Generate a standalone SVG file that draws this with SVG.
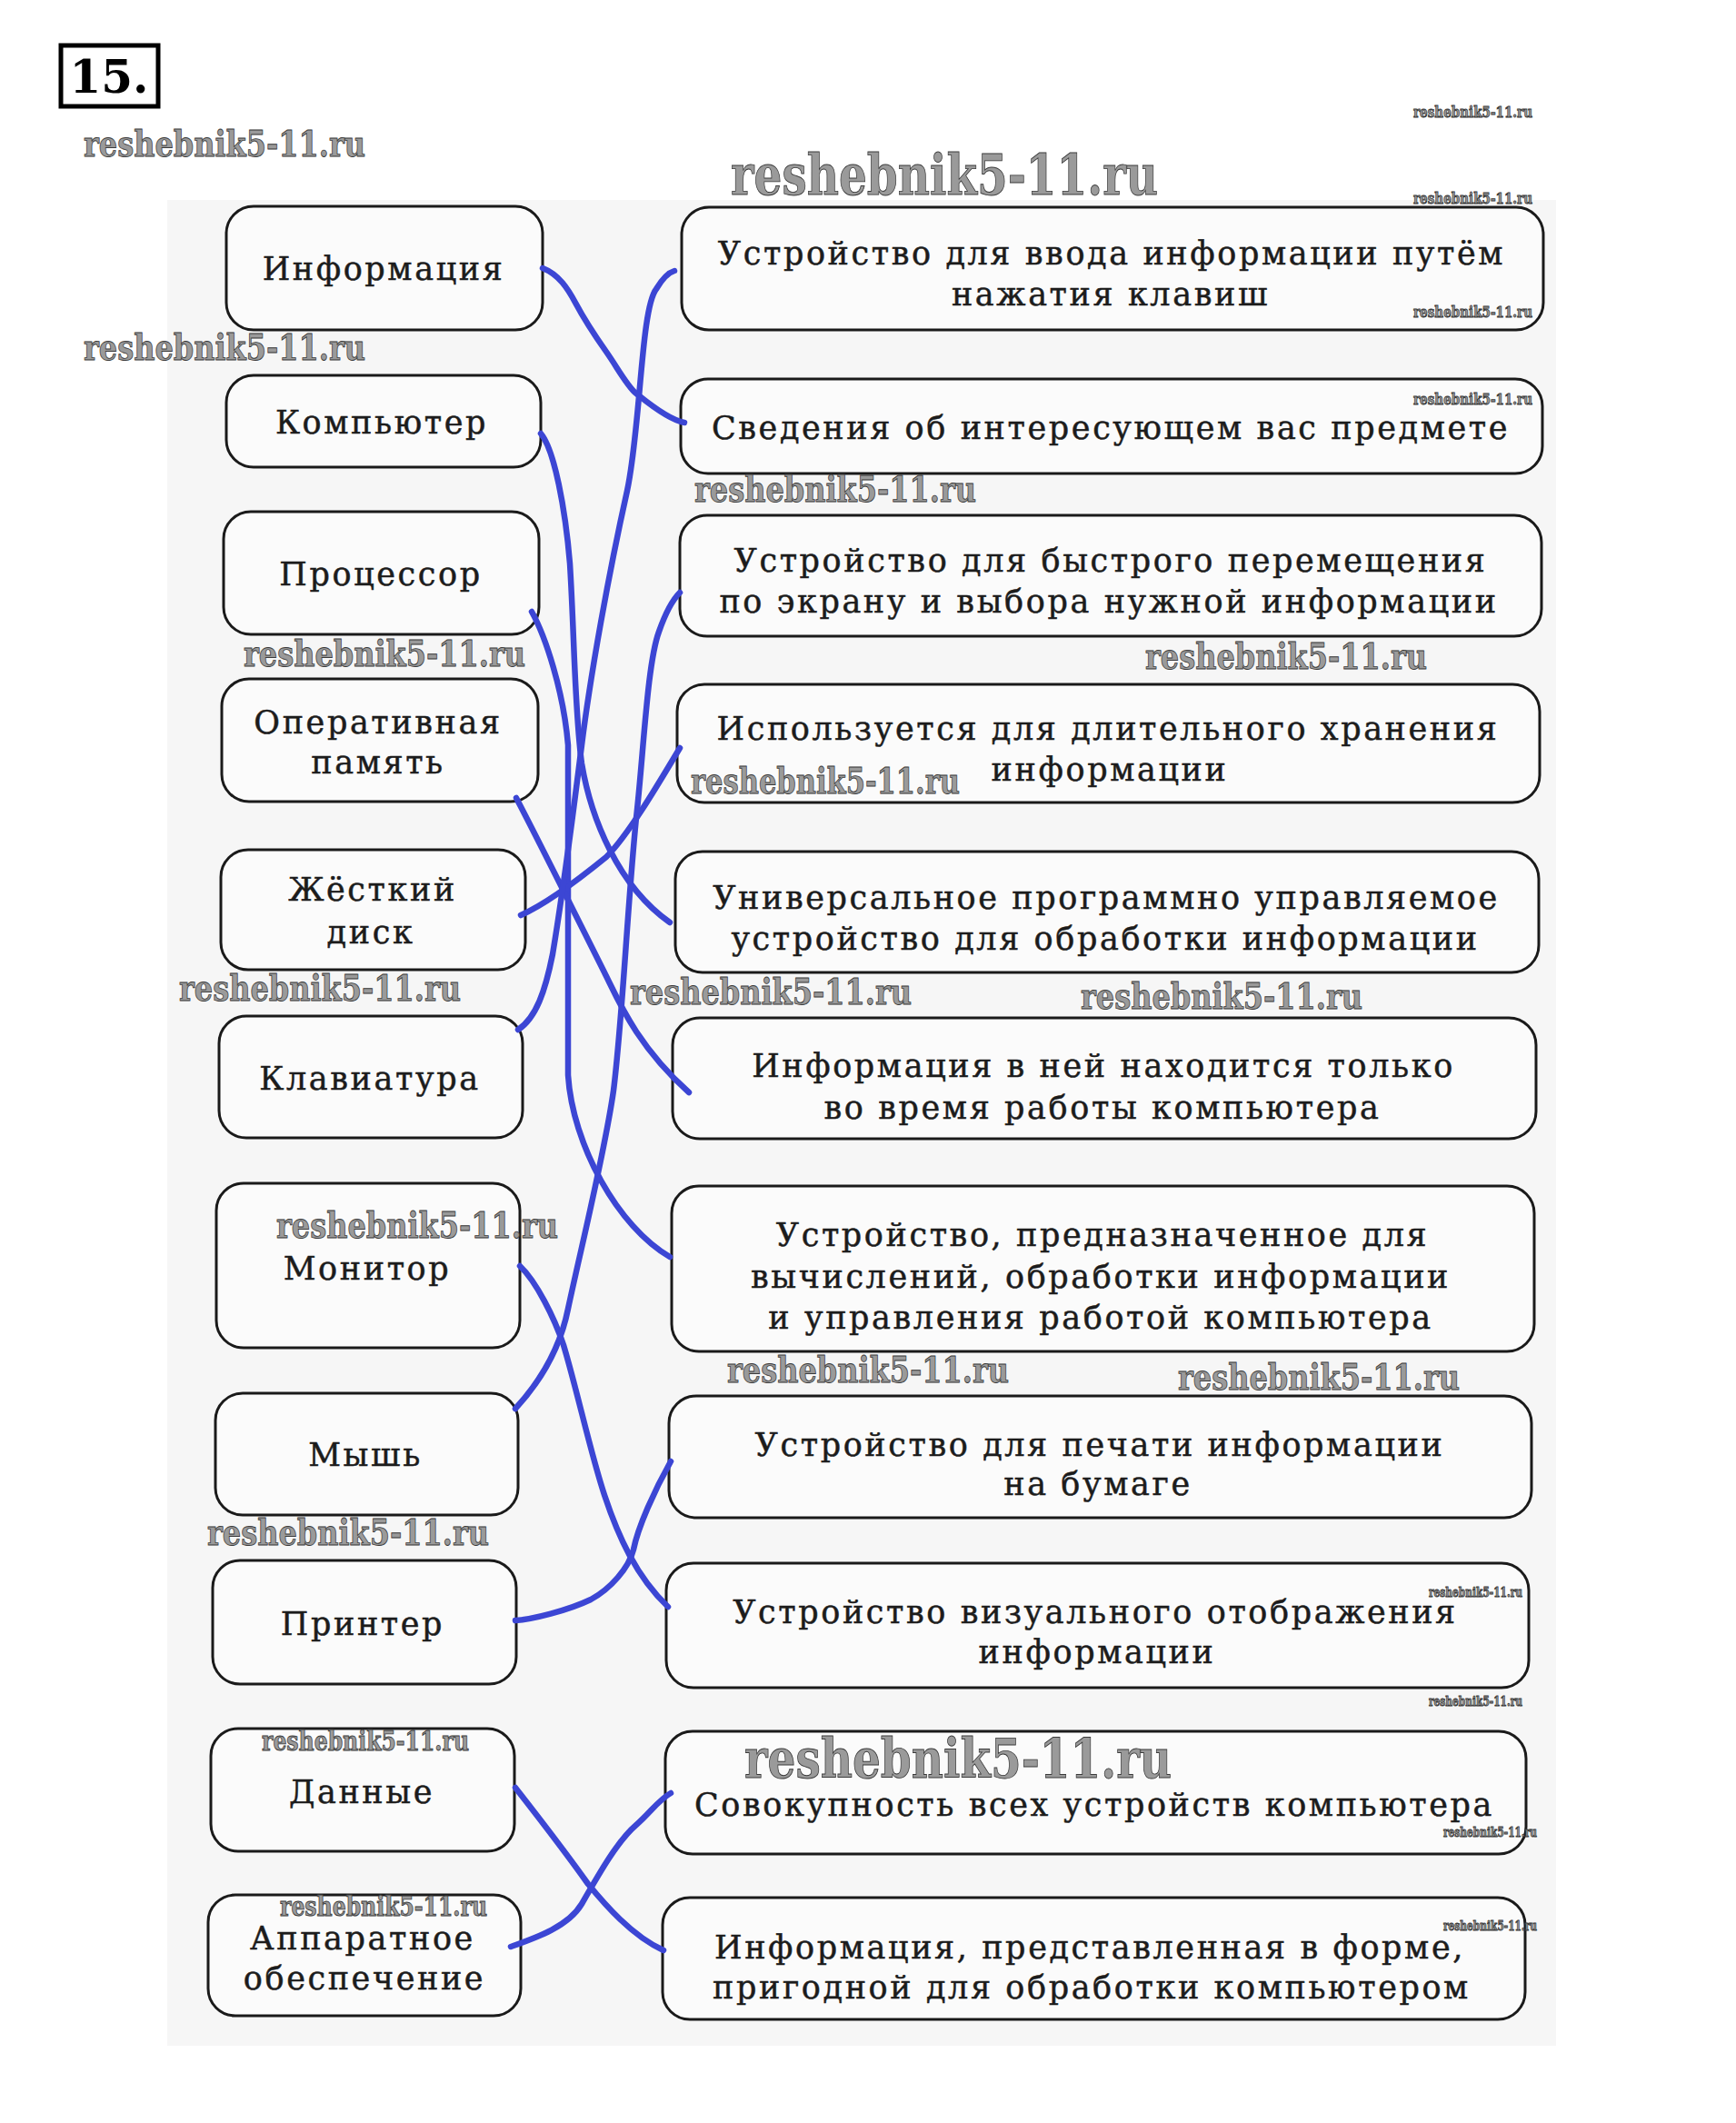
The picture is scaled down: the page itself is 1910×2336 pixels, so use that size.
<svg xmlns="http://www.w3.org/2000/svg" width="1910" height="2336" viewBox="0 0 1910 2336">
<style>
.box{fill:#fbfbfb;stroke:#1a1a1a;stroke-width:3}
.t{font-family:"DejaVu Serif","Liberation Serif",serif;font-size:35px;letter-spacing:2.6px;fill:#1c1c1c;stroke:#1c1c1c;stroke-width:0.5;text-anchor:middle}
.wm{font-family:"DejaVu Serif","Liberation Serif",serif;font-weight:bold;fill:#9a9a9a;stroke:#3a3a3a;stroke-width:0.9}
.c{fill:none;stroke:#3c46d4;stroke-width:6.5;stroke-linecap:round;stroke-linejoin:round}
</style>
<rect x="0" y="0" width="1910" height="2336" fill="#ffffff"/>
<rect x="184" y="220" width="1528" height="2031" fill="#f6f6f6"/>
<g id="label15">
<rect x="67" y="50" width="107" height="67" fill="#ffffff" stroke="#000" stroke-width="5"/>
<text x="120" y="102" font-family="DejaVu Serif, Liberation Serif, serif" font-weight="bold" font-size="50" text-anchor="middle" fill="#000">15.</text>
</g>
<g id="left-nodes">
<g id="L1"><rect class="box" x="249" y="227" width="348" height="136" rx="30"/><text class="t" x="422" y="308">Информация</text></g>
<g id="L2"><rect class="box" x="249" y="413" width="346" height="101" rx="30"/><text class="t" x="420" y="477">Компьютер</text></g>
<g id="L3"><rect class="box" x="246" y="563" width="347" height="135" rx="30"/><text class="t" x="419" y="644">Процессор</text></g>
<g id="L4"><rect class="box" x="244" y="747" width="348" height="135" rx="30"/><text class="t" x="416" y="807">Оперативная</text><text class="t" x="416" y="851">память</text></g>
<g id="L5"><rect class="box" x="243" y="935" width="335" height="132" rx="30"/><text class="t" x="410" y="991">Жёсткий</text><text class="t" x="408" y="1038">диск</text></g>
<g id="L6"><rect class="box" x="241" y="1118" width="334" height="134" rx="30"/><text class="t" x="407" y="1199">Клавиатура</text></g>
<g id="L7"><rect class="box" x="238" y="1302" width="334" height="181" rx="30"/><text class="t" x="404" y="1408">Монитор</text></g>
<g id="L8"><rect class="box" x="237" y="1533" width="333" height="134" rx="30"/><text class="t" x="402" y="1613">Мышь</text></g>
<g id="L9"><rect class="box" x="234" y="1717" width="334" height="136" rx="30"/><text class="t" x="399" y="1799">Принтер</text></g>
<g id="L10"><rect class="box" x="232" y="1902" width="334" height="135" rx="30"/><text class="t" x="398" y="1984">Данные</text></g>
<g id="L11"><rect class="box" x="229" y="2085" width="344" height="133" rx="30"/><text class="t" x="399" y="2145">Аппаратное</text><text class="t" x="401" y="2189">обеспечение</text></g>
</g>
<g id="right-nodes">
<g id="R1"><rect class="box" x="750" y="228" width="948" height="135" rx="30"/><text class="t" x="1223" y="291">Устройство для ввода информации путём</text><text class="t" x="1222" y="336">нажатия клавиш</text></g>
<g id="R2"><rect class="box" x="749" y="417" width="948" height="104" rx="30"/><text class="t" x="1222" y="483">Сведения об интересующем вас предмете</text></g>
<g id="R3"><rect class="box" x="748" y="567" width="948" height="133" rx="30"/><text class="t" x="1222" y="629">Устройство для быстрого перемещения</text><text class="t" x="1220" y="674">по экрану и выбора нужной информации</text></g>
<g id="R4"><rect class="box" x="745" y="753" width="949" height="130" rx="30"/><text class="t" x="1219" y="814">Используется для длительного хранения</text><text class="t" x="1221" y="859">информации</text></g>
<g id="R5"><rect class="box" x="743" y="937" width="950" height="133" rx="30"/><text class="t" x="1217" y="1000">Универсальное программно управляемое</text><text class="t" x="1216" y="1045">устройство для обработки информации</text></g>
<g id="R6"><rect class="box" x="740" y="1120" width="950" height="133" rx="30"/><text class="t" x="1214" y="1185">Информация в ней находится только</text><text class="t" x="1213" y="1231">во время работы компьютера</text></g>
<g id="R7"><rect class="box" x="739" y="1305" width="949" height="182" rx="30"/><text class="t" x="1213" y="1371">Устройство, предназначенное для</text><text class="t" x="1211" y="1417">вычислений, обработки информации</text><text class="t" x="1211" y="1462">и управления работой компьютера</text></g>
<g id="R8"><rect class="box" x="736" y="1536" width="949" height="134" rx="30"/><text class="t" x="1210" y="1602">Устройство для печати информации</text><text class="t" x="1208" y="1645">на бумаге</text></g>
<g id="R9"><rect class="box" x="733" y="1720" width="949" height="137" rx="30"/><text class="t" x="1205" y="1786">Устройство визуального отображения</text><text class="t" x="1207" y="1830">информации</text></g>
<g id="R10"><rect class="box" x="732" y="1905" width="947" height="135" rx="30"/><text class="t" x="1204" y="1998">Совокупность всех устройств компьютера</text></g>
<g id="R11"><rect class="box" x="729" y="2088" width="949" height="134" rx="30"/><text class="t" x="1199" y="2155">Информация, представленная в форме,</text><text class="t" x="1201" y="2199">пригодной для обработки компьютером</text></g>
</g>
<g id="connectors">
<path class="c" d="M597,295 C615,302 625,318 633,333 S655,370 667,387 S690,425 700,433 S735,462 753,465"/>
<path class="c" d="M595,477 C610,495 622,560 627,620 C632,700 632,780 640,840 C650,900 680,975 737,1015"/>
<path class="c" d="M585,673 C600,700 620,760 625,820 L625,1183 C630,1260 680,1350 737,1383"/>
<path class="c" d="M568,878 C590,920 640,1020 665,1070 C680,1100 700,1150 758,1202"/>
<path class="c" d="M573,1007 C600,995 640,965 667,943 C690,920 720,870 748,823"/>
<path class="c" d="M570,1133 C590,1120 600,1090 608,1050 C618,990 630,900 640,820 C650,740 670,630 690,540 C705,470 705,340 722,318 C728,308 735,300 742,298"/>
<path class="c" d="M572,1393 C590,1410 610,1450 620,1480 C635,1530 650,1600 665,1645 C680,1690 700,1735 735,1768"/>
<path class="c" d="M567,1550 C590,1525 615,1490 625,1440 C640,1370 665,1270 675,1200 C685,1120 690,1000 700,900 C708,830 712,730 725,695 C732,675 740,660 748,652"/>
<path class="c" d="M567,1783 C585,1782 625,1772 650,1760 C672,1748 692,1725 697,1705 C702,1680 720,1640 738,1608"/>
<path class="c" d="M567,1967 C585,1990 620,2035 647,2073 C665,2095 695,2130 730,2146"/>
<path class="c" d="M562,2142 C590,2132 625,2120 640,2095 C660,2060 680,2025 700,2008 C715,1995 725,1980 738,1973"/>
</g>
<g id="watermarks">
<text class="wm" x="92" y="172" font-size="40" textLength="310" lengthAdjust="spacingAndGlyphs">reshebnik5-11.ru</text>
<text class="wm" x="92" y="396" font-size="40" textLength="310" lengthAdjust="spacingAndGlyphs">reshebnik5-11.ru</text>
<text class="wm" x="764" y="552" font-size="40" textLength="310" lengthAdjust="spacingAndGlyphs">reshebnik5-11.ru</text>
<text class="wm" x="268" y="733" font-size="40" textLength="310" lengthAdjust="spacingAndGlyphs">reshebnik5-11.ru</text>
<text class="wm" x="1260" y="736" font-size="40" textLength="310" lengthAdjust="spacingAndGlyphs">reshebnik5-11.ru</text>
<text class="wm" x="760" y="873" font-size="40" textLength="296" lengthAdjust="spacingAndGlyphs">reshebnik5-11.ru</text>
<text class="wm" x="197" y="1101" font-size="40" textLength="310" lengthAdjust="spacingAndGlyphs">reshebnik5-11.ru</text>
<text class="wm" x="693" y="1105" font-size="40" textLength="310" lengthAdjust="spacingAndGlyphs">reshebnik5-11.ru</text>
<text class="wm" x="1189" y="1110" font-size="40" textLength="310" lengthAdjust="spacingAndGlyphs">reshebnik5-11.ru</text>
<text class="wm" x="304" y="1362" font-size="40" textLength="310" lengthAdjust="spacingAndGlyphs">reshebnik5-11.ru</text>
<text class="wm" x="800" y="1521" font-size="40" textLength="310" lengthAdjust="spacingAndGlyphs">reshebnik5-11.ru</text>
<text class="wm" x="1296" y="1529" font-size="40" textLength="310" lengthAdjust="spacingAndGlyphs">reshebnik5-11.ru</text>
<text class="wm" x="228" y="1700" font-size="40" textLength="310" lengthAdjust="spacingAndGlyphs">reshebnik5-11.ru</text>
<text class="wm" x="288" y="1926" font-size="30" textLength="228" lengthAdjust="spacingAndGlyphs">reshebnik5-11.ru</text>
<text class="wm" x="308" y="2108" font-size="29" textLength="228" lengthAdjust="spacingAndGlyphs">reshebnik5-11.ru</text>
<text class="wm" x="804" y="214" font-size="62" textLength="470" lengthAdjust="spacingAndGlyphs" stroke-width="1.3">reshebnik5-11.ru</text>
<text class="wm" x="819" y="1956" font-size="60" textLength="470" lengthAdjust="spacingAndGlyphs" stroke-width="1.3">reshebnik5-11.ru</text>
<text class="wm" x="1555" y="129" font-size="17" textLength="131" lengthAdjust="spacingAndGlyphs" stroke-width="0.4">reshebnik5-11.ru</text>
<text class="wm" x="1555" y="224" font-size="17" textLength="131" lengthAdjust="spacingAndGlyphs" stroke-width="0.4">reshebnik5-11.ru</text>
<text class="wm" x="1555" y="349" font-size="17" textLength="131" lengthAdjust="spacingAndGlyphs" stroke-width="0.4">reshebnik5-11.ru</text>
<text class="wm" x="1555" y="445" font-size="17" textLength="131" lengthAdjust="spacingAndGlyphs" stroke-width="0.4">reshebnik5-11.ru</text>
<text class="wm" x="1572" y="1757" font-size="14" textLength="103" lengthAdjust="spacingAndGlyphs" stroke-width="0.3">reshebnik5-11.ru</text>
<text class="wm" x="1572" y="1877" font-size="14" textLength="103" lengthAdjust="spacingAndGlyphs" stroke-width="0.3">reshebnik5-11.ru</text>
<text class="wm" x="1588" y="2021" font-size="14" textLength="103" lengthAdjust="spacingAndGlyphs" stroke-width="0.3">reshebnik5-11.ru</text>
<text class="wm" x="1588" y="2124" font-size="14" textLength="103" lengthAdjust="spacingAndGlyphs" stroke-width="0.3">reshebnik5-11.ru</text>
</g>
</svg>
